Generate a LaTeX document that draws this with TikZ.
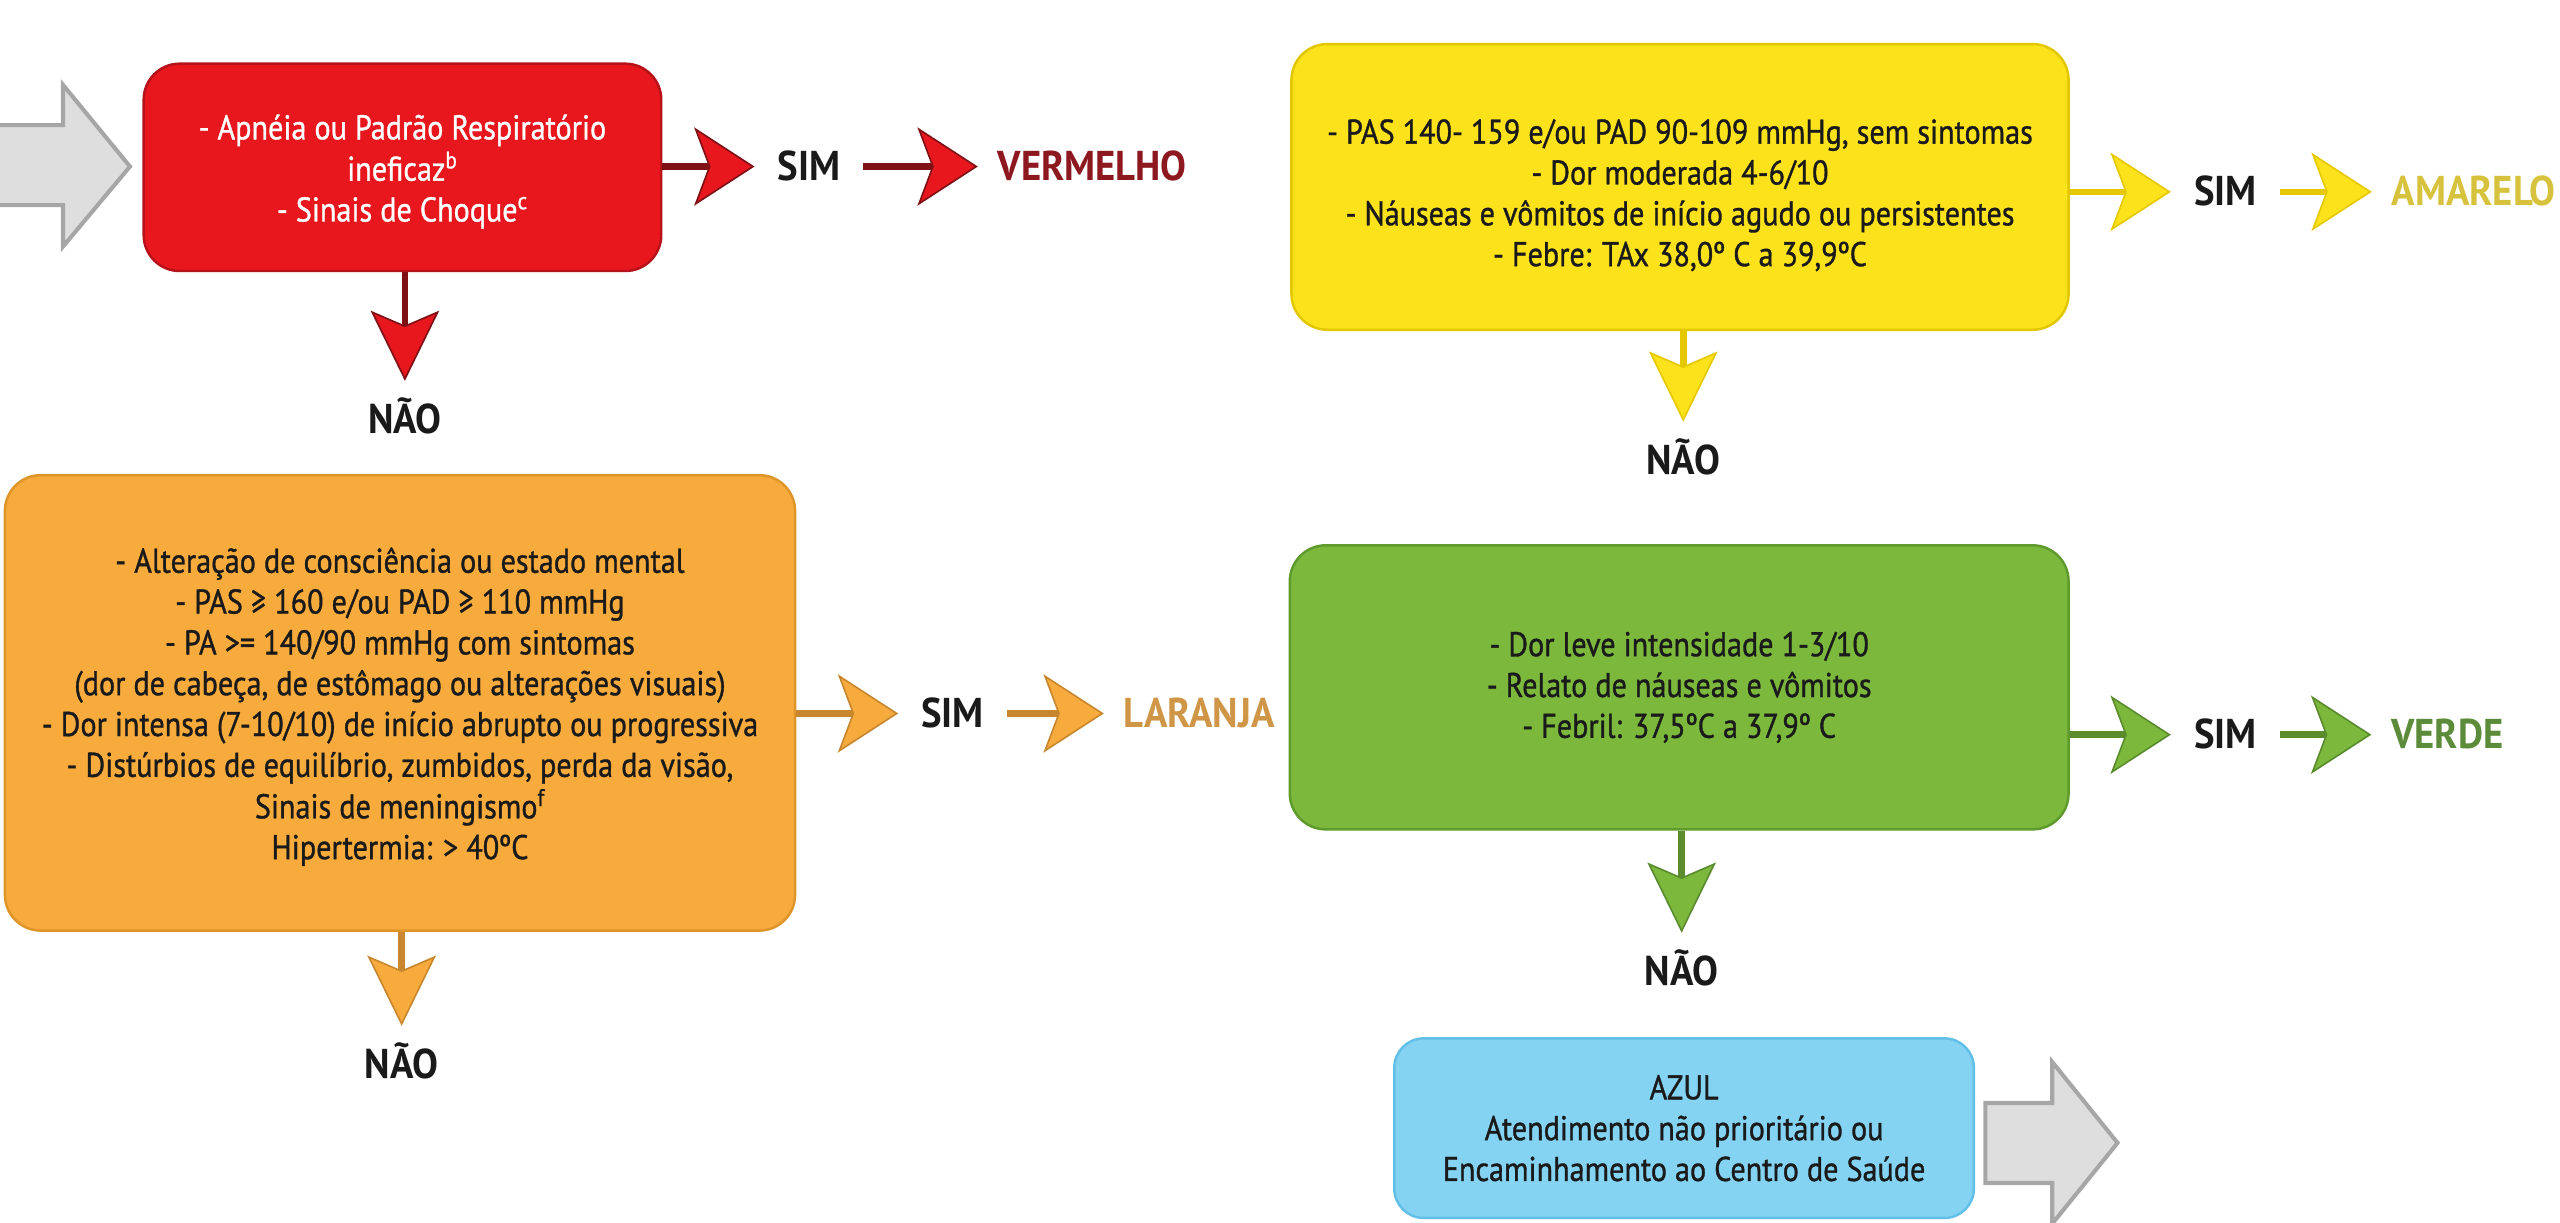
\documentclass[tikz,border=0pt]{standalone}
\usepackage{fontspec}
\setmainfont{PT Sans}
\newfontfamily\boxfont{PT Sans}[FakeStretch=0.88, FakeBold=1.0]
\newfontfamily\labelfont{PT Sans}[FakeStretch=0.93]
\usetikzlibrary{arrows.meta}

% box fills and edges
\definecolor{redfill}{HTML}{E8171E}
\definecolor{rededge}{HTML}{B5121A}
\definecolor{yelfill}{HTML}{FBE21A}
\definecolor{yeledge}{HTML}{E2C600}
\definecolor{orafill}{HTML}{F6AB3C}
\definecolor{oraedge}{HTML}{DE9428}
\definecolor{grnfill}{HTML}{7BB83C}
\definecolor{grnedge}{HTML}{5E9A2C}
\definecolor{bluefill}{HTML}{84D3F2}
\definecolor{blueedge}{HTML}{62BFE6}
% connector lines
\definecolor{redline}{HTML}{7E1016}
\definecolor{yelline}{HTML}{E6C800}
\definecolor{oraline}{HTML}{C8872E}
\definecolor{grnline}{HTML}{5A8C2E}
% outcome labels
\definecolor{redlabel}{HTML}{8E1820}
\definecolor{yellabel}{HTML}{D6C23C}
\definecolor{oralabel}{HTML}{CF9648}
\definecolor{grnlabel}{HTML}{5C8C3A}
\definecolor{ink}{HTML}{1A1A1A}
\definecolor{grayfill}{HTML}{DEDEDE}
\definecolor{grayedge}{HTML}{A6A6A6}

% centred block of lines, drawn lower than its box by a given amount
\newcommand\lowerlines[2]{\raisebox{-#1}[\height][\depth]{\begin{tabular}{@{}c@{}}#2\end{tabular}}}

\tikzset{
  stage/.style={rounded corners=22pt, inner sep=0pt, align=center,
    line width=1.5pt, text=ink,
    font=\boxfont\fontsize{21}{25}\selectfont},
  answer/.style={font=\labelfont\bfseries\fontsize{25.5}{28}\selectfont,
    text=ink, text height=17pt, text depth=0pt, inner xsep=14pt, inner ysep=0pt},
  outcome/.style={answer, inner xsep=12pt, text=#1},
  nolabel/.style={font=\labelfont\bfseries\fontsize{25.5}{28}\selectfont,
    text=ink, text height=17pt, text depth=0pt, inner xsep=0pt, inner ysep=15pt},
  hflow/.style 2 args={draw=#1, line width=4pt,
    -{Stealth[length=37pt,width=48pt,inset=9pt,line width=1pt,fill=#2,color=#1]}},
  vflow/.style 2 args={draw=#1, line width=4pt,
    -{Stealth[length=43pt,width=42pt,inset=9pt,line width=1pt,fill=#2,color=#1]}},
  bigarrow/.style={fill=grayfill, draw=grayedge, line width=2.5pt, line join=miter},
}

\begin{document}
\begin{tikzpicture}[x=1pt,y=-1pt]
\useasboundingbox (0,0) rectangle (1568,749);

% entry arrow
\path[bigarrow] (0,76.6) -- (38.6,76.6) -- (38.6,52) -- (79.6,102)
  -- (38.6,151) -- (38.6,125.6) -- (0,125.6);

% criteria boxes
\node[stage, fill=redfill, draw=rededge, text=white,
  minimum width=317pt, minimum height=127pt] (red) at (246.5,102.5)
  {\lowerlines{3pt}{- Apnéia ou Padrão Respiratório\\ ineficaz\textsuperscript{b}\\ - Sinais de Choque\textsuperscript{c}}};

\node[stage, fill=yelfill, draw=yeledge,
  minimum width=476pt, minimum height=175pt] (yellow) at (1029,114.5)
  {\lowerlines{6pt}{- PAS 140- 159 e/ou PAD 90-109 mmHg, sem sintomas\\
   - Dor moderada 4-6/10\\
   - Náuseas e vômitos de início agudo ou persistentes\\
   - Febre: TAx 38,0º C a 39,9ºC}};

\node[stage, fill=orafill, draw=oraedge,
  minimum width=484pt, minimum height=279pt] (orange) at (245,430.5)
  {\lowerlines{3pt}{- Alteração de consciência ou estado mental\\
   - PAS ≥ 160 e/ou PAD ≥ 110 mmHg\\
   - PA >= 140/90 mmHg com sintomas\\
   (dor de cabeça, de estômago ou alterações visuais)\\
   - Dor intensa (7-10/10) de início abrupto ou progressiva\\
   - Distúrbios de equilíbrio, zumbidos, perda da visão,\\
   Sinais de meningismo\textsuperscript{f}\\
   Hipertermia: > 40ºC}};

\node[stage, fill=grnfill, draw=grnedge,
  minimum width=477pt, minimum height=174pt] (green) at (1028.5,421)
  {- Dor leve intensidade 1-3/10\\
   - Relato de náuseas e vômitos\\
   - Febril: 37,5ºC a 37,9º C};

\node[stage, fill=bluefill, draw=blueedge, rounded corners=18pt,
  minimum width=355pt, minimum height=110pt] (blue) at (1031.5,691)
  {AZUL\\ Atendimento não prioritário ou\\ Encaminhamento ao Centro de Saúde};

% exit arrow
\path[bigarrow] (1216,675.6) -- (1257,675.6) -- (1257,650.5) -- (1297,700)
  -- (1257,749.5) -- (1257,724.6) -- (1216,724.6) -- cycle;

% answers and outcomes
\node[answer] (simR) at (495.5,102) {SIM};
\node[outcome=redlabel] (lblR) at (669,102) {VERMELHO};
\node[nolabel] (naoR) at (248,257) {NÃO};

\node[answer] (simY) at (1363,117.5) {SIM};
\node[outcome=yellabel] (lblY) at (1515,117.5) {AMARELO};
\node[nolabel] (naoY) at (1031,282) {NÃO};

\node[answer] (simO) at (583.5,437) {SIM};
\node[outcome=oralabel] (lblO) at (734.5,437) {LARANJA};
\node[nolabel] (naoO) at (246,652) {NÃO};

\node[answer] (simG) at (1363,450) {SIM};
\node[outcome=grnlabel] (lblG) at (1499,450) {VERDE};
\node[nolabel] (naoG) at (1030,595) {NÃO};

% connectors
\draw[hflow={redline}{redfill}] (red.east |- simR.west) -- (simR.west);
\draw[hflow={redline}{redfill}] (simR.east) -- (lblR.west);
\draw[vflow={redline}{redfill}] (red.south -| naoR.north) -- (naoR.north);

\draw[hflow={yelline}{yelfill}] (yellow.east |- simY.west) -- (simY.west);
\draw[hflow={yelline}{yelfill}] (simY.east) -- (lblY.west);
\draw[vflow={yelline}{yelfill}] (yellow.south -| naoY.north) -- (naoY.north);

\draw[hflow={oraline}{orafill}] (orange.east |- simO.west) -- (simO.west);
\draw[hflow={oraline}{orafill}] (simO.east) -- (lblO.west);
\draw[vflow={oraline}{orafill}] (orange.south -| naoO.north) -- (naoO.north);

\draw[hflow={grnline}{grnfill}] (green.east |- simG.west) -- (simG.west);
\draw[hflow={grnline}{grnfill}] (simG.east) -- (lblG.west);
\draw[vflow={grnline}{grnfill}] (green.south -| naoG.north) -- (naoG.north);
\end{tikzpicture}
\end{document}
